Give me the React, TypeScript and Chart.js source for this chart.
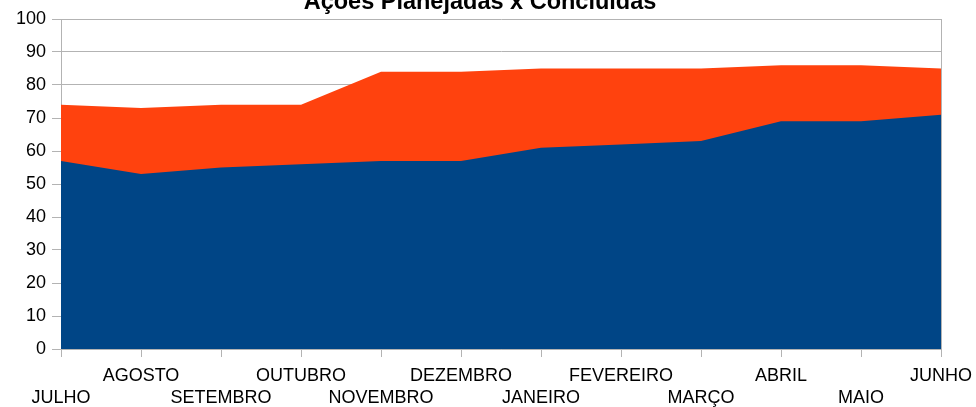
import React, { useEffect, useRef } from "react";
import { Chart, registerables } from "chart.js";

Chart.register(...registerables);

const title = "Ações Planejadas x Concluídas";
const months = [
  "JULHO", "AGOSTO", "SETEMBRO", "OUTUBRO", "NOVEMBRO", "DEZEMBRO",
  "JANEIRO", "FEVEREIRO", "MARÇO", "ABRIL", "MAIO", "JUNHO",
];
const planejadas = [74, 73, 74, 74, 84, 84, 85, 85, 85, 86, 86, 85];
const concluidas = [57, 53, 55, 56, 57, 57, 61, 62, 63, 69, 69, 71];

const FONT = "'Liberation Sans', Arial, sans-serif";
const GRID = "#b3b3b3";

export default function App() {
  const ref = useRef<HTMLCanvasElement | null>(null);
  useEffect(() => {
    if (!ref.current) return;
    const titlePlugin = {
      id: "topTitle",
      afterDraw(chart: any) {
        const ctx = chart.ctx;
        ctx.save();
        ctx.font = `bold 23.5px ${FONT}`;
        ctx.fillStyle = "#000";
        ctx.textAlign = "center";
        ctx.textBaseline = "alphabetic";
        ctx.fillText(title, 480, 9);
        ctx.restore();
      },
    };
    const borderPlugin = {
      id: "rightBorder",
      beforeDatasetsDraw(chart: any) {
        const { ctx, chartArea } = chart;
        ctx.save();
        ctx.strokeStyle = GRID;
        ctx.lineWidth = 1;
        ctx.beginPath();
        ctx.moveTo(Math.round(chartArea.right) + 0.5, chartArea.top);
        ctx.lineTo(Math.round(chartArea.right) + 0.5, chartArea.bottom);
        ctx.stroke();
        ctx.restore();
      },
    };
    const chart = new Chart(ref.current, {
      type: "line",
      data: {
        labels: months,
        datasets: [
          {
            label: "Concluídas",
            data: concluidas,
            backgroundColor: "#004586",
            borderColor: "#004586",
            borderWidth: 0,
            pointRadius: 0,
            fill: "origin",
            tension: 0,
          },
          {
            label: "Planejadas",
            data: planejadas,
            backgroundColor: "#ff420e",
            borderColor: "#ff420e",
            borderWidth: 0,
            pointRadius: 0,
            fill: "origin",
            tension: 0,
          },
        ],
      },
      options: {
        responsive: false,
        animation: false,
        layout: { padding: { top: 19, right: 35, left: 0, bottom: 0 } },
        plugins: { legend: { display: false }, title: { display: false }, tooltip: { enabled: false } },
        scales: {
          x: {
            type: "category",
            offset: false,
            grid: { drawOnChartArea: false, tickLength: 8, color: GRID },
            border: { color: GRID },
            ticks: {
              autoSkip: false,
              maxRotation: 0,
              minRotation: 0,
              padding: 8,
              color: "#000",
              font: { family: FONT, size: 18, lineHeight: 1.22 },
              callback: (_v: any, i: number) => (i % 2 === 0 ? ["", months[i]] : [months[i]]),
            },
            afterFit: (s: any) => {
              s.height = 58;
              s.paddingLeft = 0;
              s.paddingRight = 0;
            },
          },
          y: {
            min: 0,
            max: 100,
            grid: { color: GRID, tickLength: 9 },
            border: { color: GRID },
            ticks: {
              stepSize: 10,
              padding: 6,
              color: "#000",
              font: { family: FONT, size: 18 },
            },
            afterFit: (s: any) => { s.width = 61; },
          },
        },
      },
      plugins: [titlePlugin, borderPlugin],
    });
    return () => chart.destroy();
  }, []);
  return (
    <canvas
      ref={ref}
      width={976}
      height={407}
      style={{ position: "fixed", top: 0, left: 0, display: "block" }}
    />
  );
}
